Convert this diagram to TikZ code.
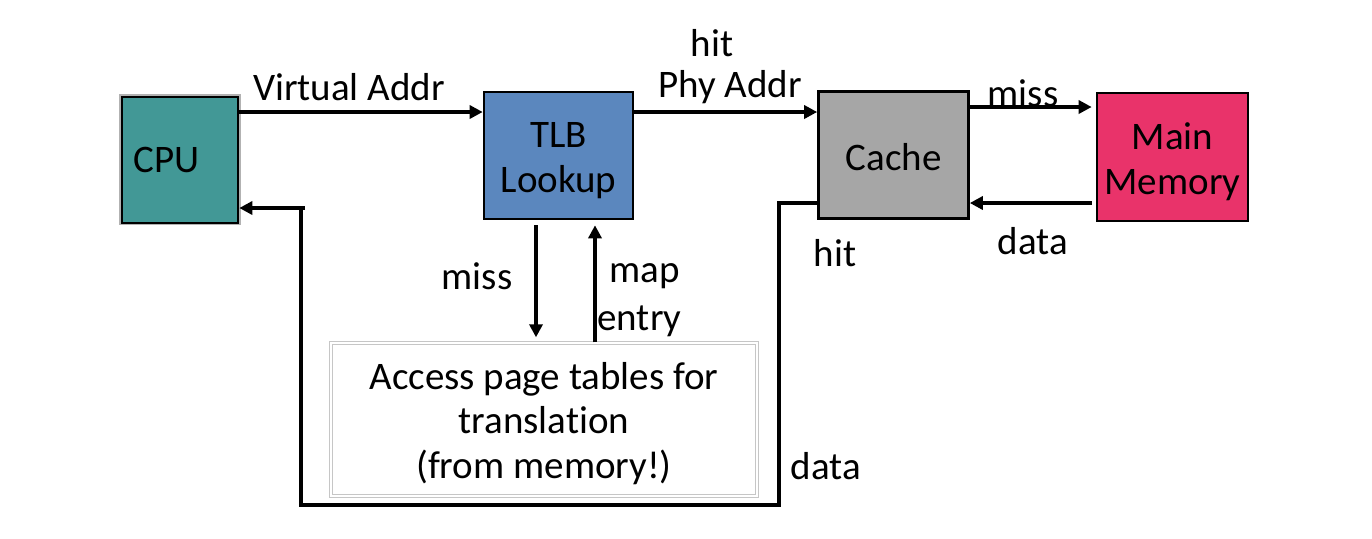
\documentclass[tikz,border=0pt]{standalone}
\usepackage{fontspec}
\setmainfont{Carlito}[Ligatures=NoCommon]
\usetikzlibrary{arrows.meta}
\definecolor{cputeal}{RGB}{66,152,150}
\definecolor{tlbblue}{RGB}{91,135,190}
\definecolor{cachegray}{RGB}{166,166,166}
\definecolor{mempink}{RGB}{233,51,106}
\tikzset{
  box/.style={draw=black, line width=1.3pt, inner sep=0pt, align=center},
  arr/.style={line width=1.9pt, -{Triangle[length=6.5pt,width=6.5pt]}},
  wire/.style={line width=1.9pt},
  lbl/.style={inner sep=0pt, anchor=center, align=center},
}
\begin{document}
\begin{tikzpicture}[x=0.5pt,y=-0.5pt,font=\fontsize{19.5}{22.5}\selectfont]
\useasboundingbox (0,0) rectangle (1372,538);
% shadow of CPU
\fill[gray!60] (119,94) rectangle (241,225);
\node[box, fill=cputeal, minimum width=58pt, minimum height=63pt] (cpu) at (180,160) {};
\node[lbl, anchor=west] (cputxt) at (133,160) {CPU};
\node[box, fill=tlbblue, minimum width=74.5pt, minimum height=63.5pt] (tlb) at (558.5,155.5) {};
\node[lbl] (tlbtxt) at (558.5,161) {TLB\\Lookup};
\node[box, fill=cachegray, minimum width=75pt, minimum height=63.5pt] (cache) at (893.5,155) {};
\node[lbl] (cachetxt) at (893.5,157) {Cache};
\node[box, fill=mempink, minimum width=75.5pt, minimum height=64pt] (mem) at (1172.5,157) {};
\node[lbl] (memtxt) at (1172.5,161.5) {Main\\Memory};
\node[draw=gray!45, line width=0.7pt, double=white, double distance=1pt, inner sep=0pt,
      minimum width=213pt, minimum height=76.5pt] (pt) at (544,419.5) {};
\node[lbl, font=\fontsize{19.5}{22.25}\selectfont] (pttxt) at (544,423.5)
      {Access page tables for\\translation\\(from memory!)};
% connectors
\draw[arr] (cpu.east |- 0,112) -- (tlb.west |- 0,112);
\draw[arr] (tlb.east |- 0,112) -- (cache.west |- 0,112);
\draw[arr] (cache.east |- 0,107) -- ([xshift=-2pt]mem.west |- 0,107);
\draw[arr] ([xshift=-2pt]mem.west |- 0,203) -- (cache.east |- 0,203);
\coordinate (b1) at (779,203);
\coordinate (b2) at (779,505);
\coordinate (b3) at (301,505);
\coordinate (b4) at (301,208);
\draw[wire] (cache.west |- 0,203) -- (b1) -- (b2) -- (b3) -- (b4);
\draw[arr] ([xshift=2pt]b4) -- (cpu.east |- 0,208);
\draw[arr] ([yshift=-2.5pt]tlb.south -| 536,0) -- ([yshift=2.5pt]pt.north -| 536,0);
\draw[arr] (pt.north -| 595,0) -- ([yshift=-2.5pt]tlb.south -| 595,0);
% labels
\node[lbl] (l1) at (349,87) {Virtual Addr};
\node[lbl] (l2) at (712,43) {hit};
\node[lbl] (l3) at (730,87) {Phy Addr};
\node[lbl] (l4) at (1023,93) {miss};
\node[lbl] (l5) at (1033,241) {data};
\node[lbl] (l6) at (835,253) {hit};
\node[lbl] (l7) at (826,466) {data};
\node[lbl] (l8) at (477,276) {miss};
\node[lbl, anchor=west] (l9) at (609,276) {map};
\node[lbl, anchor=west] (l10) at (597,321) {entry};
\end{tikzpicture}
\end{document}
